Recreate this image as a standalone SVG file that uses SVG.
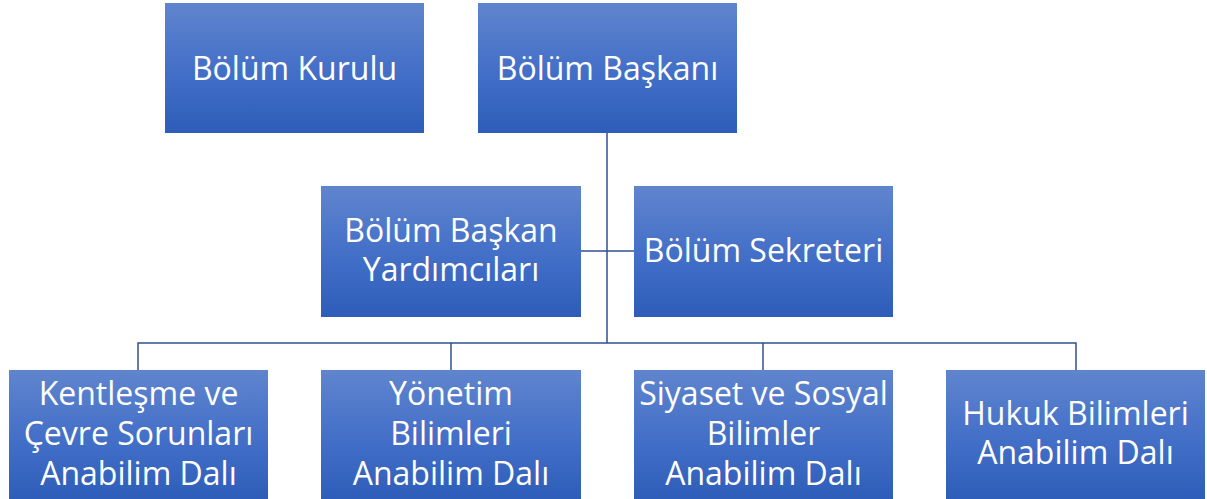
<svg xmlns="http://www.w3.org/2000/svg" width="1207" height="499" viewBox="0 0 1207 499">
<defs>
<linearGradient id="g" x1="0" y1="0" x2="0" y2="1">
<stop offset="0" stop-color="#6085CE"/>
<stop offset="0.5" stop-color="#4470C8"/>
<stop offset="1" stop-color="#2D5DB9"/>
</linearGradient>
</defs>
<style>
.box{fill:url(#g);}
.t{fill:#ffffff;font-family:"Open Sans","Liberation Sans",sans-serif;font-size:32px;text-anchor:middle;}
.c{stroke:#2F4F92;stroke-width:1.5;fill:none;}
</style>
<rect width="1207" height="499" fill="#ffffff"/>
<g id="connectors">
<path class="c" d="M607,133 V343"/>
<path class="c" d="M581,251 H634"/>
<path class="c" d="M138,370 V343 H1076 V370"/>
<path class="c" d="M451,343 V370"/>
<path class="c" d="M763,343 V370"/>
</g>
<g id="kurul"><rect class="box" x="165" y="3" width="259" height="130"/><text class="t" x="294.5" y="80">Bölüm Kurulu</text></g>
<g id="baskan"><rect class="box" x="478" y="3" width="259" height="130"/><text class="t" x="607.5" y="80">Bölüm Başkanı</text></g>
<g id="yardimci"><rect class="box" x="321" y="186" width="260" height="131"/><text class="t" x="451" y="242">Bölüm Başkan</text><text class="t" x="451" y="281">Yardımcıları</text></g>
<g id="sekreter"><rect class="box" x="634" y="186" width="259" height="131"/><text class="t" x="763.5" y="262">Bölüm Sekreteri</text></g>
<g id="kentlesme"><rect class="box" x="9" y="370" width="259" height="131"/><text class="t" x="138.5" y="405">Kentleşme ve</text><text class="t" x="138.5" y="445">Çevre Sorunları</text><text class="t" x="138.5" y="485">Anabilim Dalı</text></g>
<g id="yonetim"><rect class="box" x="321" y="370" width="260" height="131"/><text class="t" x="451" y="405">Yönetim</text><text class="t" x="451" y="445">Bilimleri</text><text class="t" x="451" y="485">Anabilim Dalı</text></g>
<g id="siyaset"><rect class="box" x="634" y="370" width="259" height="131"/><text class="t" x="763.5" y="405">Siyaset ve Sosyal</text><text class="t" x="763.5" y="445">Bilimler</text><text class="t" x="763.5" y="485">Anabilim Dalı</text></g>
<g id="hukuk"><rect class="box" x="946" y="370" width="259" height="131"/><text class="t" x="1075.5" y="425">Hukuk Bilimleri</text><text class="t" x="1075.5" y="464">Anabilim Dalı</text></g>
</svg>
